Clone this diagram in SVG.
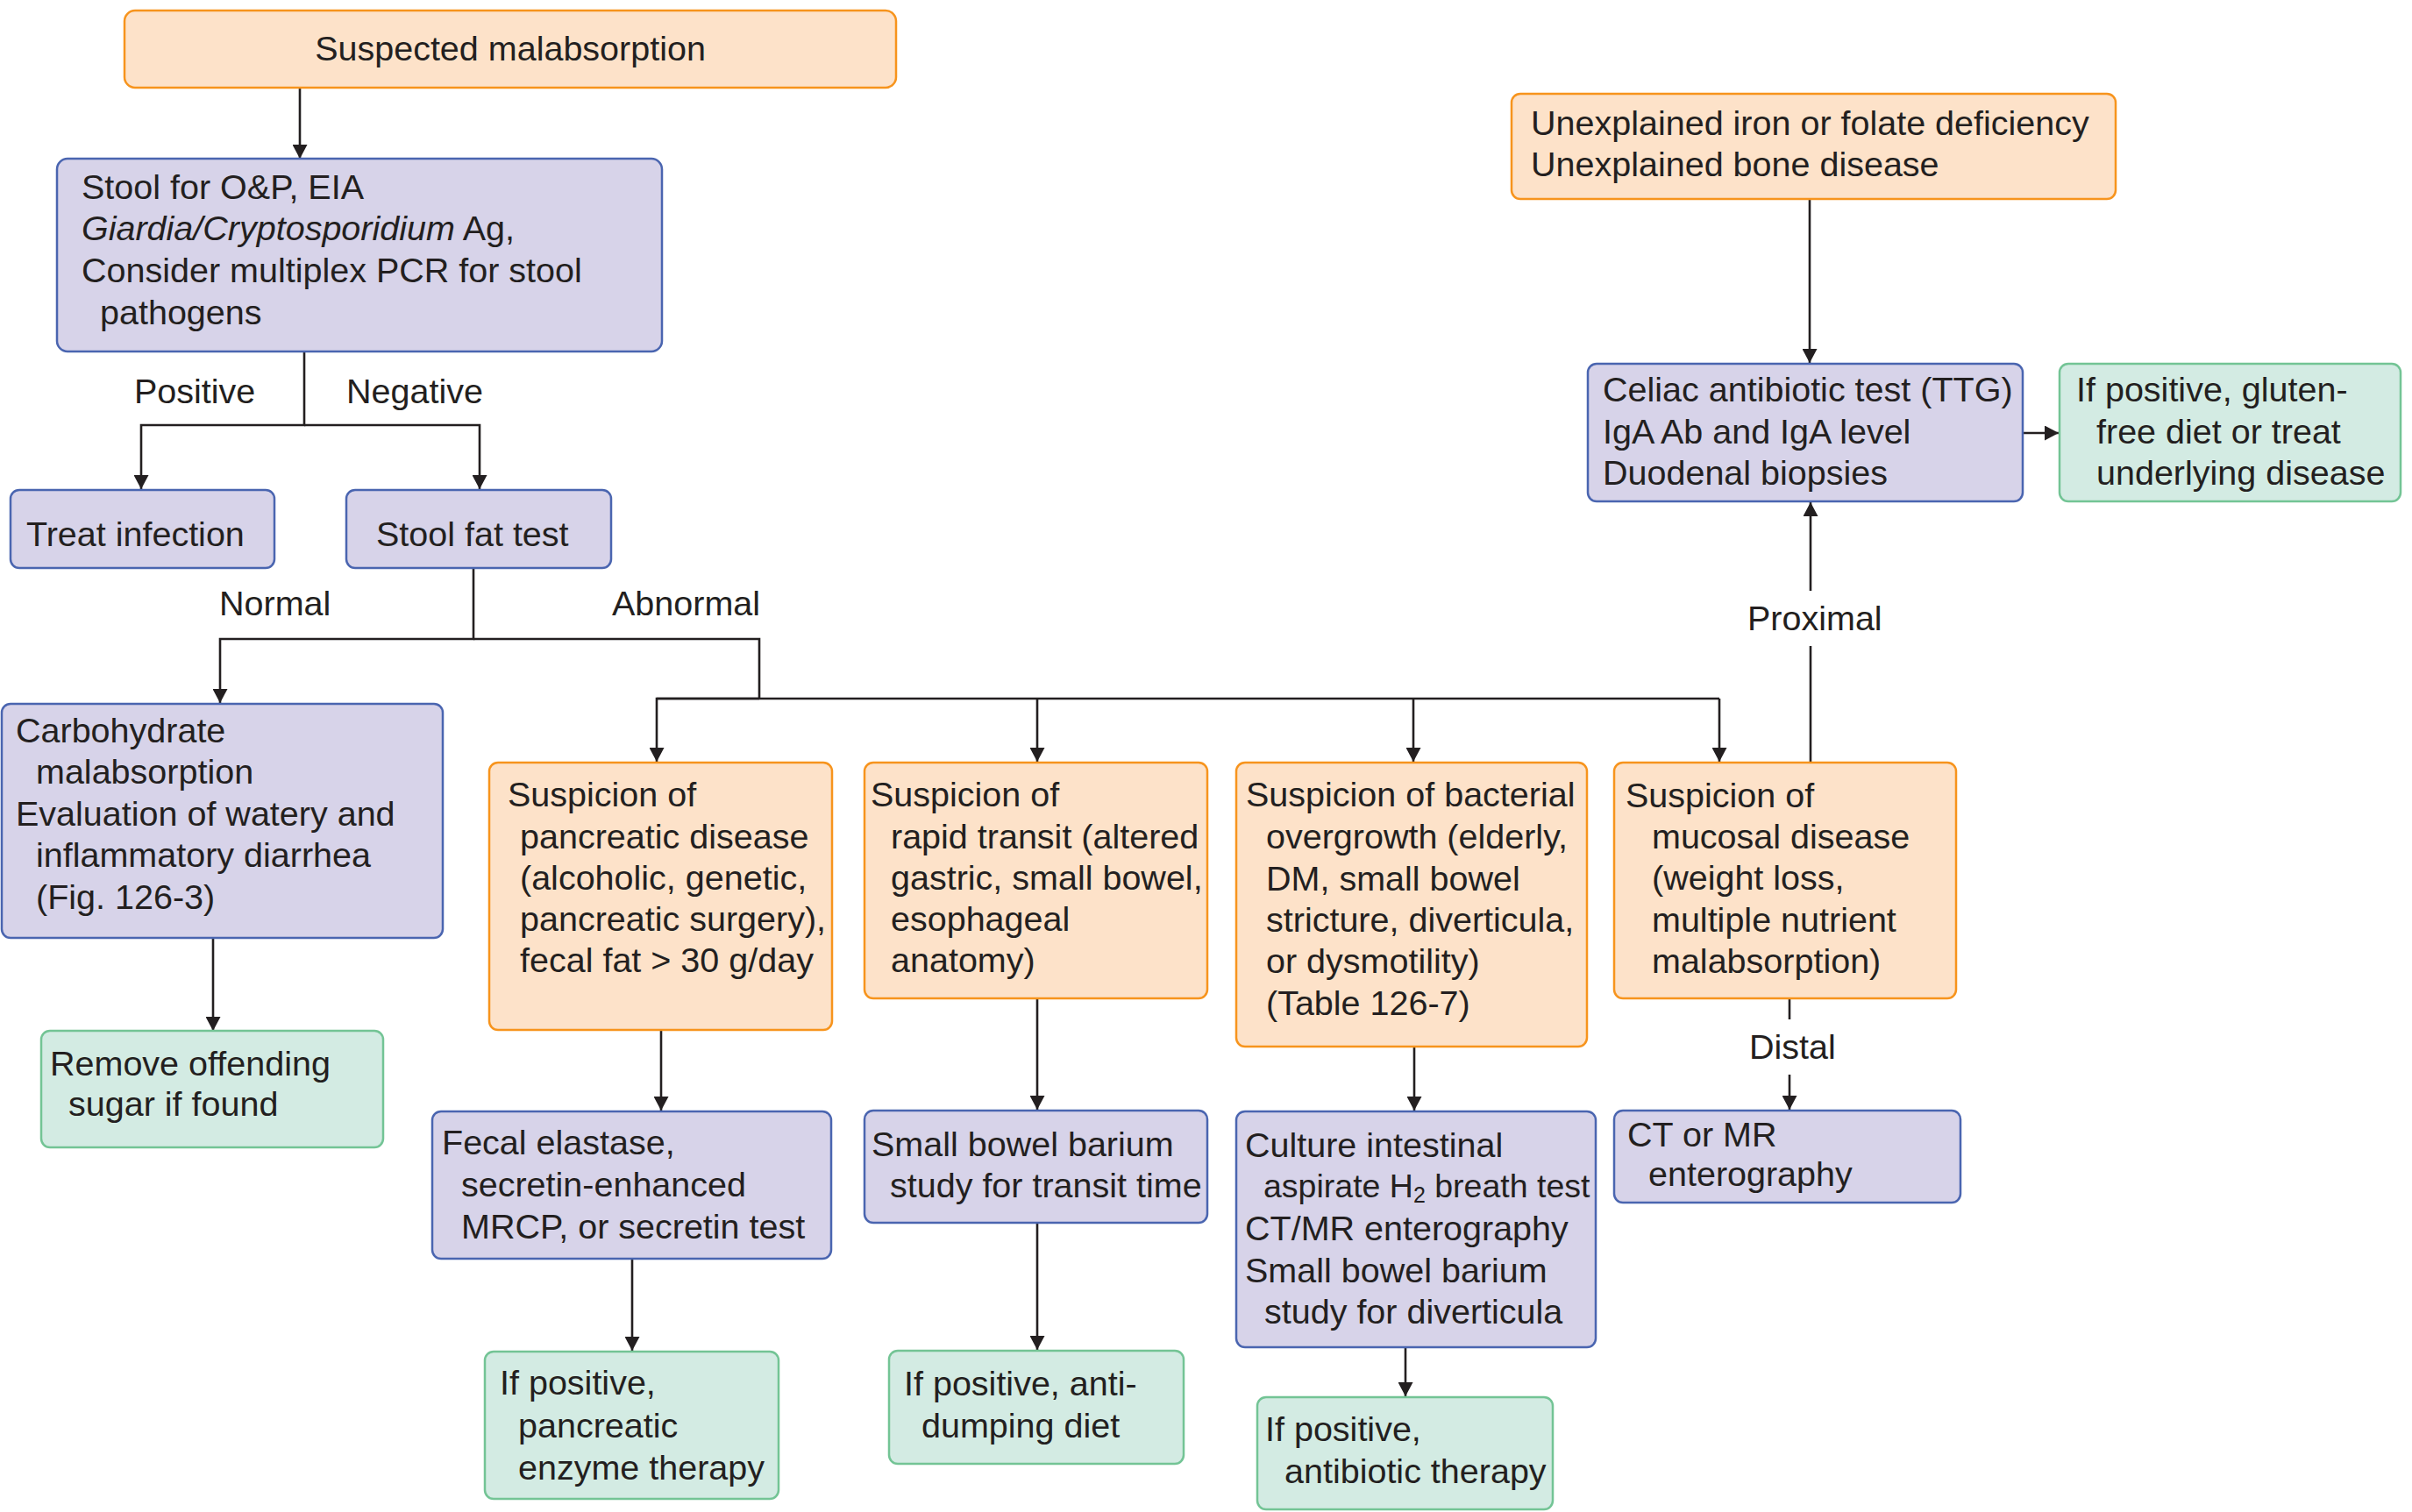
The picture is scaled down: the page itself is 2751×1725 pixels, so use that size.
<svg xmlns="http://www.w3.org/2000/svg" width="2751" height="1725" viewBox="0 0 2751 1725">
<style>
.o{fill:#fde2c9;stroke:#f7941d;stroke-width:2.5}
.p{fill:#d7d3e9;stroke:#4a65b0;stroke-width:2.5}
.g{fill:#d3ebe3;stroke:#73c495;stroke-width:2.5}
text{font-family:"Liberation Sans",Arial,sans-serif;font-size:39.5px;fill:#231f20}
.c{fill:none;stroke:#231f20;stroke-width:2.6}
.a{marker-end:url(#ah)}
</style>
<defs>
<marker id="ah" markerUnits="userSpaceOnUse" markerWidth="17" markerHeight="17" refX="16" refY="8.5" orient="auto">
<path d="M0,0 L16,8.5 L0,17 z" fill="#231f20"/>
</marker>
</defs>
<rect width="2751" height="1725" fill="#ffffff"/>
<g id="connectors">
<path class="c a" d="M342,100 V181"/>
<path class="c a" d="M347,401 V485 H161 V558"/>
<path class="c a" d="M347,485 H547 V558"/>
<path class="c a" d="M540,648 V729 H251 V802"/>
<path class="c" d="M540,729 H866 V797"/>
<path class="c a" d="M866,797 H749 V869"/>
<path class="c" d="M749,797 H1961"/>
<path class="c a" d="M1183,797 V869"/>
<path class="c a" d="M1612,797 V869"/>
<path class="c a" d="M1961,797 V869"/>
<path class="c a" d="M243,1070 V1176"/>
<path class="c a" d="M754,1175 V1267"/>
<path class="c a" d="M721,1436 V1541"/>
<path class="c a" d="M1183,1139 V1266"/>
<path class="c a" d="M1183,1395 V1540"/>
<path class="c a" d="M1613,1194 V1267"/>
<path class="c a" d="M1603,1537 V1593"/>
<path class="c" d="M2041,1139 V1163"/>
<path class="c a" d="M2041,1226 V1266"/>
<path class="c" d="M2065,869 V737"/>
<path class="c a" d="M2065,674 V573"/>
<path class="c a" d="M2064,227 V414"/>
<path class="c a" d="M2307,494 H2348"/>
<text x="153" y="460">Positive</text>
<text x="395" y="460">Negative</text>
<text x="250" y="702">Normal</text>
<text x="698" y="702">Abnormal</text>
<text x="1993" y="719">Proximal</text>
<text x="1995" y="1208">Distal</text>
</g>
<g id="n-suspected">
<rect class="o" x="142" y="12" width="880" height="88" rx="12"/>
<text x="582" y="69" text-anchor="middle">Suspected malabsorption</text>
</g>
<g id="n-stool">
<rect class="p" x="65" y="181" width="690" height="220" rx="12"/>
<text x="93" y="227">Stool for O&amp;P, EIA</text>
<text x="93" y="274"><tspan font-style="italic">Giardia/Cryptosporidium</tspan> Ag,</text>
<text x="93" y="322">Consider multiplex PCR for stool</text>
<text x="114" y="370">pathogens</text>
</g>
<g id="n-treat">
<rect class="p" x="12" y="559" width="301" height="89" rx="10"/>
<text x="30" y="623">Treat infection</text>
</g>
<g id="n-fattest">
<rect class="p" x="395" y="559" width="302" height="89" rx="10"/>
<text x="429" y="623">Stool fat test</text>
</g>
<g id="n-carb">
<rect class="p" x="2" y="803" width="503" height="267" rx="10"/>
<text x="18" y="847">Carbohydrate</text>
<text x="41" y="894">malabsorption</text>
<text x="18" y="942">Evaluation of watery and</text>
<text x="41" y="989">inflammatory diarrhea</text>
<text x="41" y="1037">(Fig. 126-3)</text>
</g>
<g id="n-pancreatic">
<rect class="o" x="558" y="870" width="391" height="305" rx="10"/>
<text x="579" y="920">Suspicion of</text>
<text x="593" y="968">pancreatic disease</text>
<text x="593" y="1015">(alcoholic, genetic,</text>
<text x="593" y="1062">pancreatic surgery),</text>
<text x="593" y="1109">fecal fat &gt; 30 g/day</text>
</g>
<g id="n-rapid">
<rect class="o" x="986" y="870" width="391" height="269" rx="10"/>
<text x="993" y="920">Suspicion of</text>
<text x="1016" y="968">rapid transit (altered</text>
<text x="1016" y="1015">gastric, small bowel,</text>
<text x="1016" y="1062">esophageal</text>
<text x="1016" y="1109">anatomy)</text>
</g>
<g id="n-bacterial">
<rect class="o" x="1410" y="870" width="400" height="324" rx="10"/>
<text x="1421" y="920">Suspicion of bacterial</text>
<text x="1444" y="968">overgrowth (elderly,</text>
<text x="1444" y="1016">DM, small bowel</text>
<text x="1444" y="1063">stricture, diverticula,</text>
<text x="1444" y="1110">or dysmotility)</text>
<text x="1444" y="1158">(Table 126-7)</text>
</g>
<g id="n-mucosal">
<rect class="o" x="1841" y="870" width="390" height="269" rx="10"/>
<text x="1854" y="921">Suspicion of</text>
<text x="1884" y="968">mucosal disease</text>
<text x="1884" y="1015">(weight loss,</text>
<text x="1884" y="1063">multiple nutrient</text>
<text x="1884" y="1110">malabsorption)</text>
</g>
<g id="n-unexplained">
<rect class="o" x="1724" y="107" width="689" height="120" rx="10"/>
<text x="1746" y="154">Unexplained iron or folate deficiency</text>
<text x="1746" y="201">Unexplained bone disease</text>
</g>
<g id="n-celiac">
<rect class="p" x="1811" y="415" width="496" height="157" rx="10"/>
<text x="1828" y="458">Celiac antibiotic test (TTG)</text>
<text x="1828" y="506">IgA Ab and IgA level</text>
<text x="1828" y="553">Duodenal biopsies</text>
</g>
<g id="n-glutenfree">
<rect class="g" x="2349" y="415" width="389" height="157" rx="10"/>
<text x="2368" y="458">If positive, gluten-</text>
<text x="2391" y="506">free diet or treat</text>
<text x="2391" y="553">underlying disease</text>
</g>
<g id="n-remove">
<rect class="g" x="47" y="1176" width="390" height="133" rx="10"/>
<text x="57" y="1227">Remove offending</text>
<text x="78" y="1273">sugar if found</text>
</g>
<g id="n-fecal">
<rect class="p" x="493" y="1268" width="455" height="168" rx="10"/>
<text x="504" y="1317">Fecal elastase,</text>
<text x="526" y="1365">secretin-enhanced</text>
<text x="526" y="1413">MRCP, or secretin test</text>
</g>
<g id="n-enzyme">
<rect class="g" x="553" y="1542" width="335" height="168" rx="10"/>
<text x="570" y="1591">If positive,</text>
<text x="591" y="1640">pancreatic</text>
<text x="591" y="1688">enzyme therapy</text>
</g>
<g id="n-transit">
<rect class="p" x="986" y="1267" width="391" height="128" rx="10"/>
<text x="994" y="1319">Small bowel barium</text>
<text x="1015" y="1366">study for transit time</text>
</g>
<g id="n-antidumping">
<rect class="g" x="1014" y="1541" width="336" height="129" rx="10"/>
<text x="1031" y="1592">If positive, anti-</text>
<text x="1051" y="1640">dumping diet</text>
</g>
<g id="n-culture">
<rect class="p" x="1410" y="1268" width="410" height="269" rx="10"/>
<text x="1420" y="1320">Culture intestinal</text>
<text x="1441" y="1366" style="font-size:37.5px">aspirate H<tspan font-size="25" dy="6">2</tspan><tspan dy="-6"> breath test</tspan></text>
<text x="1420" y="1415">CT/MR enterography</text>
<text x="1420" y="1463">Small bowel barium</text>
<text x="1442" y="1510">study for diverticula</text>
</g>
<g id="n-antibiotic">
<rect class="g" x="1434" y="1594" width="337" height="128" rx="10"/>
<text x="1443" y="1644">If positive,</text>
<text x="1465" y="1692">antibiotic therapy</text>
</g>
<g id="n-ct">
<rect class="p" x="1841" y="1267" width="395" height="105" rx="10"/>
<text x="1856" y="1308">CT or MR</text>
<text x="1880" y="1353">enterography</text>
</g>
</svg>
